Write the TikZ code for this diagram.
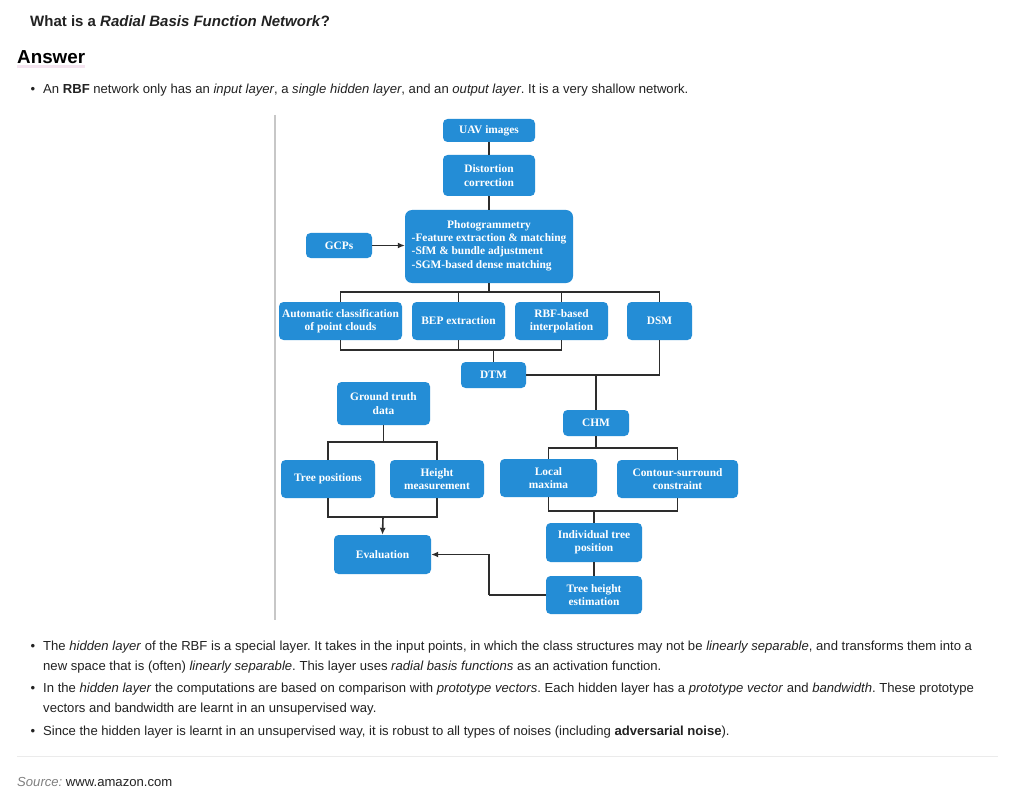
\documentclass[tikz,border=0pt]{standalone}
\usepackage{fontspec}
\setmainfont{Liberation Sans}
\newfontfamily\diagfont{Liberation Serif}
\usetikzlibrary{arrows.meta}
\definecolor{boxblue}{RGB}{36,141,214}
\definecolor{bodytext}{RGB}{34,34,34}
\definecolor{linegray}{RGB}{45,45,45}
\frenchspacing
\tikzset{
  box/.style={fill=boxblue, draw=none, rounded corners=4.5pt, text=white, align=center, inner sep=0pt,
    font=\diagfont\bfseries\fontsize{11.4}{13.4}\selectfont},
  conn/.style={draw=linegray, line width=1.6pt},
  arr/.style={conn, -{Latex[length=7pt,width=6pt]}},
  bodyt/.style={anchor=base west, inner sep=0pt, text=bodytext, font=\fontsize{13.1}{15}\selectfont},
  bul/.style={anchor=base, inner sep=0pt, text=bodytext, font=\fontsize{13.1}{15}\selectfont}
}
\begin{document}
\begin{tikzpicture}[x=1pt,y=-1pt]
\useasboundingbox[fill=white] (0,0) rectangle (1016,802);
% header texts
\node[anchor=base west, inner sep=0pt, text=bodytext, font=\bfseries\fontsize{15}{18}\selectfont] (title) at (30,27) {What is a \textit{Radial Basis Function Network}?};
\fill[pink!40!violet!15] (17,65) rectangle (85,68);
\node[anchor=base west, inner sep=0pt, text=black, font=\bfseries\fontsize{18.8}{22}\selectfont] (ans) at (17,64) {Answer};
\node[bul] (b1) at (33,94) {\textbullet};
\node[bodyt] (t1) at (43,94) {An \textbf{RBF} network only has an \textit{input layer}, a \textit{single hidden layer}, and an \textit{output layer}. It is a very shallow network.};
% vertical rule
\draw[line width=1.2pt, draw=black!22] (275,115) -- (275,620);
% boxes
\node[box, minimum width=92, minimum height=23] (uav) at (489,130.5) {UAV images};
\node[box, minimum width=92, minimum height=41] (dist) at (489,175.5) {Distortion\\correction};
\node[box, minimum width=168, minimum height=73, rounded corners=7pt] (photo) at (489,246.5) {Photogrammetry\\\begin{tabular}{@{}l@{}}-Feature extraction \& matching\\-SfM \& bundle adjustment\\-SGM-based dense matching\end{tabular}};
\node[box, minimum width=66, minimum height=25] (gcp) at (339,245.5) {GCPs};
\node[box, minimum width=123, minimum height=38] (auto) at (340.5,321) {Automatic classification\\of point clouds};
\node[box, minimum width=93, minimum height=38] (bep) at (458.5,321) {BEP extraction};
\node[box, minimum width=93, minimum height=38] (rbf) at (561.5,321) {RBF-based\\interpolation};
\node[box, minimum width=65, minimum height=38] (dsm) at (659.5,321) {DSM};
\node[box, minimum width=65, minimum height=26] (dtm) at (493.5,375) {DTM};
\node[box, minimum width=93, minimum height=43] (gt) at (383.5,403.5) {Ground truth\\data};
\node[box, minimum width=66, minimum height=26] (chm) at (596,423) {CHM};
\node[box, minimum width=94, minimum height=38] (treepos) at (328,479) {Tree positions};
\node[box, minimum width=94, minimum height=38] (height) at (437,479) {Height\\measurement};
\node[box, minimum width=97, minimum height=38] (lmax) at (548.5,478) {Local\\maxima};
\node[box, minimum width=121, minimum height=38] (contour) at (677.5,479) {Contour-surround\\constraint};
\node[box, minimum width=97, minimum height=39] (eval) at (382.5,554.5) {Evaluation};
\node[box, minimum width=96, minimum height=39] (indiv) at (594,542.5) {Individual tree\\position};
\node[box, minimum width=96, minimum height=38] (treeh) at (594,595) {Tree height\\estimation};
% bus coordinates
\coordinate (bus1) at (489,292);
\coordinate (bus2) at (493.5,350);
\coordinate (bus3) at (596,448);
\coordinate (bus4) at (383.5,442);
\coordinate (bus5) at (383,517);
\coordinate (bus6) at (594,511);
\coordinate (turn) at (489,595);
% connectors
\draw[conn] (uav) -- (dist);
\draw[conn] (dist) -- (photo);
\draw[arr] (gcp.east) -- (photo.west |- gcp.east);
\draw[conn] (photo.south) -- (bus1);
\draw[conn] (auto.north) |- (bus1);
\draw[conn] (dsm.north) |- (bus1);
\draw[conn] (bep.north) -- (bep.north |- bus1);
\draw[conn] (rbf.north) -- (rbf.north |- bus1);
\draw[conn] (auto.south) |- (bus2);
\draw[conn] (rbf.south) |- (bus2);
\draw[conn] (bep.south) -- (bep.south |- bus2);
\draw[conn] (bus2) -- (dtm.north);
\draw[conn] (dsm.south) |- (dtm.east);
\draw[conn] (chm.north) -- (chm.north |- dtm.east);
\draw[conn] (chm.south) -- (bus3);
\draw[conn] (lmax.north) |- (bus3);
\draw[conn] (contour.north) |- (bus3);
\draw[conn] (gt.south) -- (bus4);
\draw[conn] (treepos.north) |- (bus4);
\draw[conn] (height.north) |- (bus4);
\draw[conn] (treepos.south) |- (bus5);
\draw[conn] (height.south) |- (bus5);
\draw[arr] (bus5) -- (eval.north);
\draw[conn] (lmax.south) |- (bus6);
\draw[conn] (contour.south) |- (bus6);
\draw[conn] (bus6) -- (indiv.north);
\draw[conn] (indiv.south) -- (treeh.north);
\draw[conn] (treeh.west) -- (turn);
\draw[arr] (turn) |- (eval.east);
% lower bullets
\node[bul] (b2) at (33,650.5) {\textbullet};
\node[bodyt] (t2a) at (43,650.5) {The \textit{hidden layer} of the RBF is a special layer. It takes in the input points, in which the class structures may not be \textit{linearly separable}, and transforms them into a};
\node[bodyt] (t2b) at (43,670) {new space that is (often) \textit{linearly separable}. This layer uses \textit{radial basis functions} as an activation function.};
\node[bul] (b3) at (33,692.5) {\textbullet};
\node[bodyt] (t3a) at (43,692.5) {In the \textit{hidden layer} the computations are based on comparison with \textit{prototype vectors}. Each hidden layer has a \textit{prototype vector} and \textit{bandwidth}. These prototype};
\node[bodyt] (t3b) at (43,712) {vectors and bandwidth are learnt in an unsupervised way.};
\node[bul] (b4) at (33,735) {\textbullet};
\node[bodyt] (t4) at (43,735) {Since the hidden layer is learnt in an unsupervised way, it is robust to all types of noises (including \textbf{adversarial noise}).};
\draw[line width=1.2pt, draw=black!8] (17,756.5) -- (998,756.5);
\node[bodyt] (src) at (17,786) {\textcolor{black!50}{\textit{Source:}} www.amazon.com};
\end{tikzpicture}
\end{document}
